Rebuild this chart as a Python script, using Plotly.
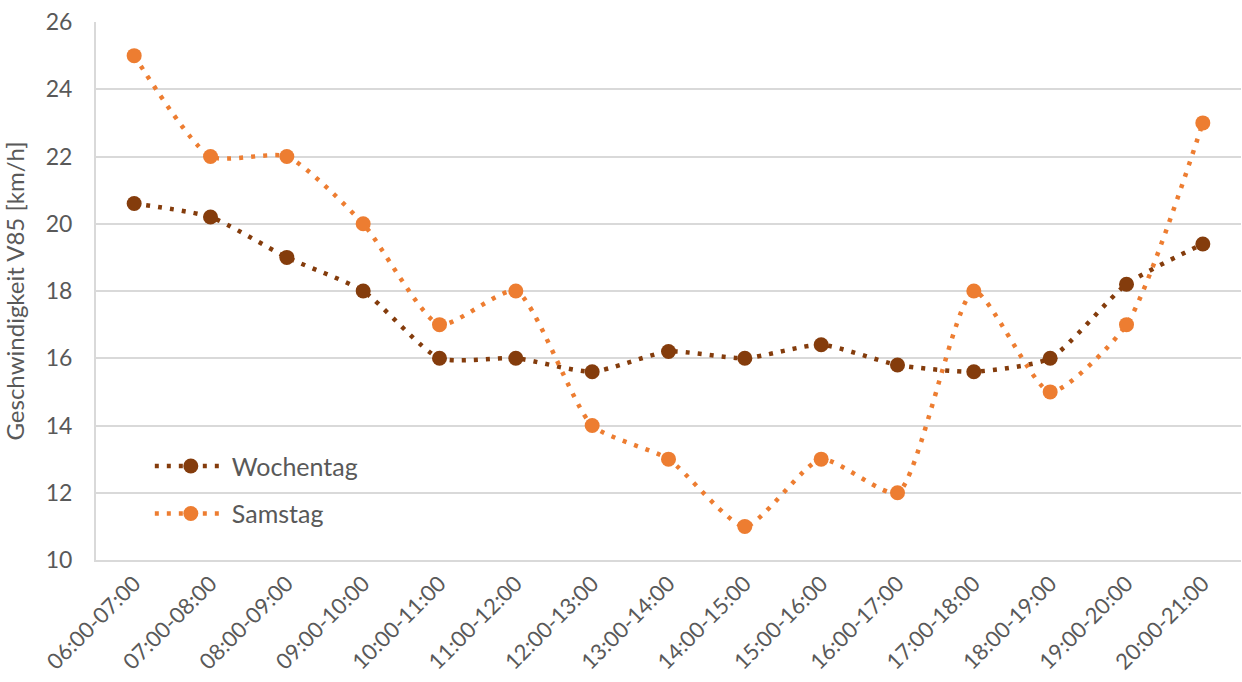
import plotly.graph_objects as go

categories = ["06:00-07:00", "07:00-08:00", "08:00-09:00", "09:00-10:00", "10:00-11:00",
              "11:00-12:00", "12:00-13:00", "13:00-14:00", "14:00-15:00", "15:00-16:00",
              "16:00-17:00", "17:00-18:00", "18:00-19:00", "19:00-20:00", "20:00-21:00"]
wochentag = [20.6, 20.2, 19.0, 18.0, 16.0, 16.0, 15.6, 16.2, 16.0, 16.4, 15.8, 15.6, 16.0, 18.2, 19.4]
samstag = [25, 22, 22, 20, 17, 18, 14, 13, 11, 13, 12, 18, 15, 17, 23]

FONT = "Lato, 'DejaVu Sans', sans-serif"
TXT = "#595959"
DOT = "4px,8px"

fig = go.Figure()
fig.add_trace(go.Scatter(
    x=categories, y=wochentag, name="Wochentag", mode="lines+markers", legendgroup="a",
    line=dict(color="#843C0C", width=4.5, dash=DOT, shape="spline", smoothing=0.6),
    marker=dict(color="#843C0C", size=15),
))
fig.add_trace(go.Scatter(
    x=categories, y=samstag, name="Samstag", mode="lines+markers", legendgroup="b",
    line=dict(color="#ED7D31", width=4.5, dash=DOT, shape="spline", smoothing=0.6),
    marker=dict(color="#ED7D31", size=15),
))

fig.update_layout(
    width=1242, height=682,
    margin=dict(l=96, r=1, t=22, b=122),
    paper_bgcolor="white", plot_bgcolor="white",
    font=dict(family=FONT, color=TXT),
    showlegend=True,
    legend=dict(x=0.047, y=0.217, xanchor="left", yanchor="top",
                font=dict(size=25, color=TXT, family=FONT),
                bgcolor="rgba(0,0,0,0)", itemsizing="trace",
                tracegroupgap=12, itemwidth=72),
    xaxis=dict(
        type="category", range=[-0.5, 14.5], automargin=False,
        tickangle=-45, tickfont=dict(size=22, color=TXT, family=FONT),
        showgrid=False, showline=True, linecolor="#d9d9d9", linewidth=2,
        ticks="", mirror=False,
    ),
    yaxis=dict(
        range=[10, 26], dtick=2, tick0=10, automargin=False,
        tickfont=dict(size=23, color=TXT, family=FONT),
        showgrid=True, gridcolor="#d9d9d9", gridwidth=2,
        showline=True, linecolor="#d9d9d9", linewidth=2,
        zeroline=False, ticks="", ticklabelstandoff=17,
        title=dict(text="Geschwindigkeit V85 [km/h]", font=dict(size=24, color=TXT, family=FONT), standoff=14),
    ),
)

fig.write_html("out.html")
